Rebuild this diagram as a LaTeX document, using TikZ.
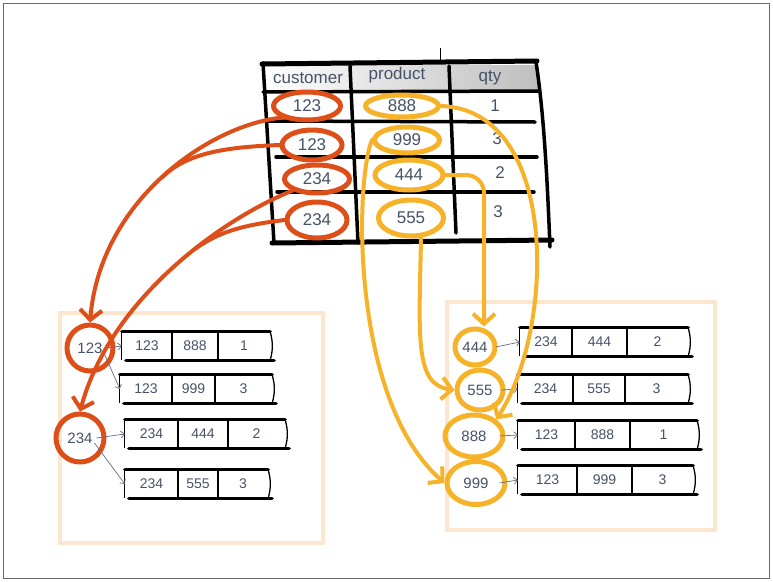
\documentclass[tikz,border=0pt]{standalone}
\usepackage{fontspec}
\setmainfont{Liberation Sans}
\usetikzlibrary{shapes.geometric,arrows.meta,positioning,fit,calc}
\definecolor{ink}{RGB}{70,82,102}
\definecolor{redink}{RGB}{222,78,24}
\definecolor{goldink}{RGB}{246,178,40}
\definecolor{peach}{RGB}{252,230,205}
\definecolor{framegray}{RGB}{105,105,105}

% one stored record: name, left x, mid y, right x, two dividers, three cells
\newcommand{\record}[9]{%
  \path (#2,#3-14) coordinate (#1-tl) (#4,#3+14) coordinate (#1-br);
  \node[fit=(#1-tl)(#1-br),inner sep=0pt] (#1) {};
  \draw[recedge] (#1.north west) -- (#1.north east);
  \draw[recedge] ([xshift=4pt]#1.south west) -- ([xshift=4pt]#1.south east);
  \draw[recside] (#1.north west) -- (#1.south west);
  \draw[recside] (#1.north east) to[bend left=15] (#1.south east);
  \draw[recside] (#5,#3-13) -- (#5,#3+13);
  \draw[recside] (#6,#3-13) -- (#6,#3+13);
  \node[cell] (#1-a) at ({(#2+#5)/2},#3) {#7};
  \node[cell] (#1-b) at ({(#5+#6)/2},#3) {#8};
  \node[cell] (#1-c) at ({(#6+#4)/2},#3) {#9};
}

\begin{document}
\begin{tikzpicture}[x=1pt,y=-1pt,
  every node/.style={text=ink},
  grid/.style={line width=3.5pt,line cap=round},
  recedge/.style={line width=3.2pt,line cap=round},
  recside/.style={line width=1.3pt},
  cell/.style={inner sep=0pt,font=\fontsize{14}{14}\selectfont},
  tabtext/.style={inner sep=0pt,font=\fontsize{17}{17}\selectfont},
  redring/.style={ellipse,draw=redink,line width=5pt,inner sep=0pt,
    font=\fontsize{17}{17}\selectfont},
  goldring/.style={ellipse,draw=goldink,line width=5pt,inner sep=0pt,
    font=\fontsize{17}{17}\selectfont},
  redlink/.style={draw=redink,line width=4pt,line cap=round},
  goldlink/.style={draw=goldink,line width=4pt,line cap=round},
  barb/.style={-{Straight Barb[length=10pt,width=22pt]}},
  pointer/.style={draw=ink!85,line width=0.7pt,
    -{Straight Barb[length=3.5pt,width=7pt]}},
  panel/.style={draw=peach,line width=4pt}]

\useasboundingbox (0,0) rectangle (773,581);
\draw[framegray,line width=1.5pt] (3.5,3.5) rectangle (769.5,578.5);

% the two index panels
\draw[panel] (60,313) rectangle (323,543);
\draw[panel] (447,302) rectangle (715,530);

% table
\shade[left color=white,right color=black!25] (263,65) rectangle (538,92);
\draw[line width=0.8pt] (440,48) -- (440,62);
\draw[grid,line width=5pt] (262,64) -- (537,61);
\draw[grid] (263,92) -- (538,91);
\draw[grid] (267,121) -- (535,122);
\draw[grid] (276,157) -- (537,157);
\draw[grid] (277,192) -- (534,192);
\draw[grid,line width=5pt] (272,243) -- (552,240);
\draw[grid] (263,63) -- (274,243);
\draw[grid] (350,66) -- (358,243);
\draw[grid] (449,66) -- (456,233);
\draw[grid] (536,62) .. controls (545,120) and (548,200) .. (550,247);

\node[tabtext] (hcust) at (308,78) {customer};
\node[tabtext] (hprod) at (397,75) {product};
\node[tabtext] (hqty) at (490,78) {qty};

\node[redring,minimum width=67pt,minimum height=28pt] (t123a) at (307,106) {123};
\node[redring,minimum width=60pt,minimum height=30pt] (t123b) at (312,145) {123};
\node[redring,minimum width=65pt,minimum height=28pt] (t234a) at (317,179) {234};
\node[redring,minimum width=60pt,minimum height=36pt] (t234b) at (317,220) {234};

\node[goldring,minimum width=73pt,minimum height=22pt] (t888) at (402,106) {888};
\node[goldring,minimum width=65pt,minimum height=26pt] (t999) at (407,140) {999};
\node[goldring,minimum width=68pt,minimum height=30pt] (t444) at (409,175) {444};
\node[goldring,minimum width=65pt,minimum height=36pt] (t555) at (411,218) {555};

\node[tabtext] (q1) at (495,106) {1};
\node[tabtext] (q2) at (497,139) {3};
\node[tabtext] (q3) at (500,173) {2};
\node[tabtext] (q4) at (498,212) {3};

% left panel: by customer
\node[redring,circle,minimum size=46pt,font=\fontsize{15}{15}\selectfont] (c123) at (90,348) {123};
\node[redring,circle,minimum size=48pt,font=\fontsize{15}{15}\selectfont] (c234) at (80,438) {234};

\record{L1}{122}{346}{270}{172}{218}{123}{888}{1}
\record{L2}{120}{389}{272}{172}{215}{123}{999}{3}
\record{L3}{125}{434}{285}{178}{228}{234}{444}{2}
\record{L4}{125}{484}{268}{178}{218}{234}{555}{3}

% right panel: by product
\node[goldring,minimum width=40pt,minimum height=36pt,font=\fontsize{15}{15}\selectfont] (c444) at (475,347) {444};
\node[goldring,minimum width=46pt,minimum height=40pt,font=\fontsize{15}{15}\selectfont] (c555) at (480,390) {555};
\node[goldring,minimum width=58pt,minimum height=42pt,font=\fontsize{15}{15}\selectfont] (c888) at (474,436) {888};
\node[goldring,minimum width=58pt,minimum height=43pt,font=\fontsize{15}{15}\selectfont] (c999) at (476,483) {999};

\record{R1}{520}{342}{688}{572}{627}{234}{444}{2}
\record{R2}{518}{389}{688}{573}{625}{234}{555}{3}
\record{R3}{518}{435}{697}{575}{630}{123}{888}{1}
\record{R4}{518}{480}{693}{577}{632}{123}{999}{3}

% pointers into the records
\draw[pointer] ([xshift=-10pt]c123.east) -- (L1.west);
\draw[pointer] ([xshift=-12pt,yshift=-4pt]c123.east) -- (L2.west);
\draw[pointer] ([xshift=-10pt]c234.east) -- (L3.west);
\draw[pointer] ([xshift=-12pt,yshift=-5pt]c234.east) -- (L4.west);
\draw[pointer] ([xshift=-2pt]c444.east) -- (R1.west);
\draw[pointer] ([xshift=-4pt]c555.east) -- (R2.west);
\draw[pointer] ([xshift=-6pt]c888.east) -- (R3.west);
\draw[pointer] ([xshift=-8pt]c999.east) -- (R4.west);

% customer links
\draw[redlink,barb] (t123a.south west) .. controls (210,125) and (100,200)
  .. coordinate[pos=0.5] (join1) (c123.north);
\draw[redlink] (t123b.west) .. controls +(-50,2) and +(25,-25) .. (join1);
\draw[redlink,barb] (t234a.south west) .. controls (220,220) and (110,300)
  .. coordinate[pos=0.4] (join2) (c234.north);
\draw[redlink] (t234b.west) .. controls +(-40,5) and +(25,-18) .. (join2);

% product links
\draw[goldlink,barb] (t888.east) .. controls (560,110) and (555,330) .. (c888.north east);
\draw[goldlink,barb] (t999.west) .. controls (355,180) and (350,400) .. (c999.west);
\draw[goldlink,barb,rounded corners=18pt] (t444.east) -| ([xshift=9pt]c444.north);
\draw[goldlink,barb] ([xshift=10pt]t555.south) .. controls +(-2,100) and +(-40,-5) .. (c555.west);
\end{tikzpicture}
\end{document}
